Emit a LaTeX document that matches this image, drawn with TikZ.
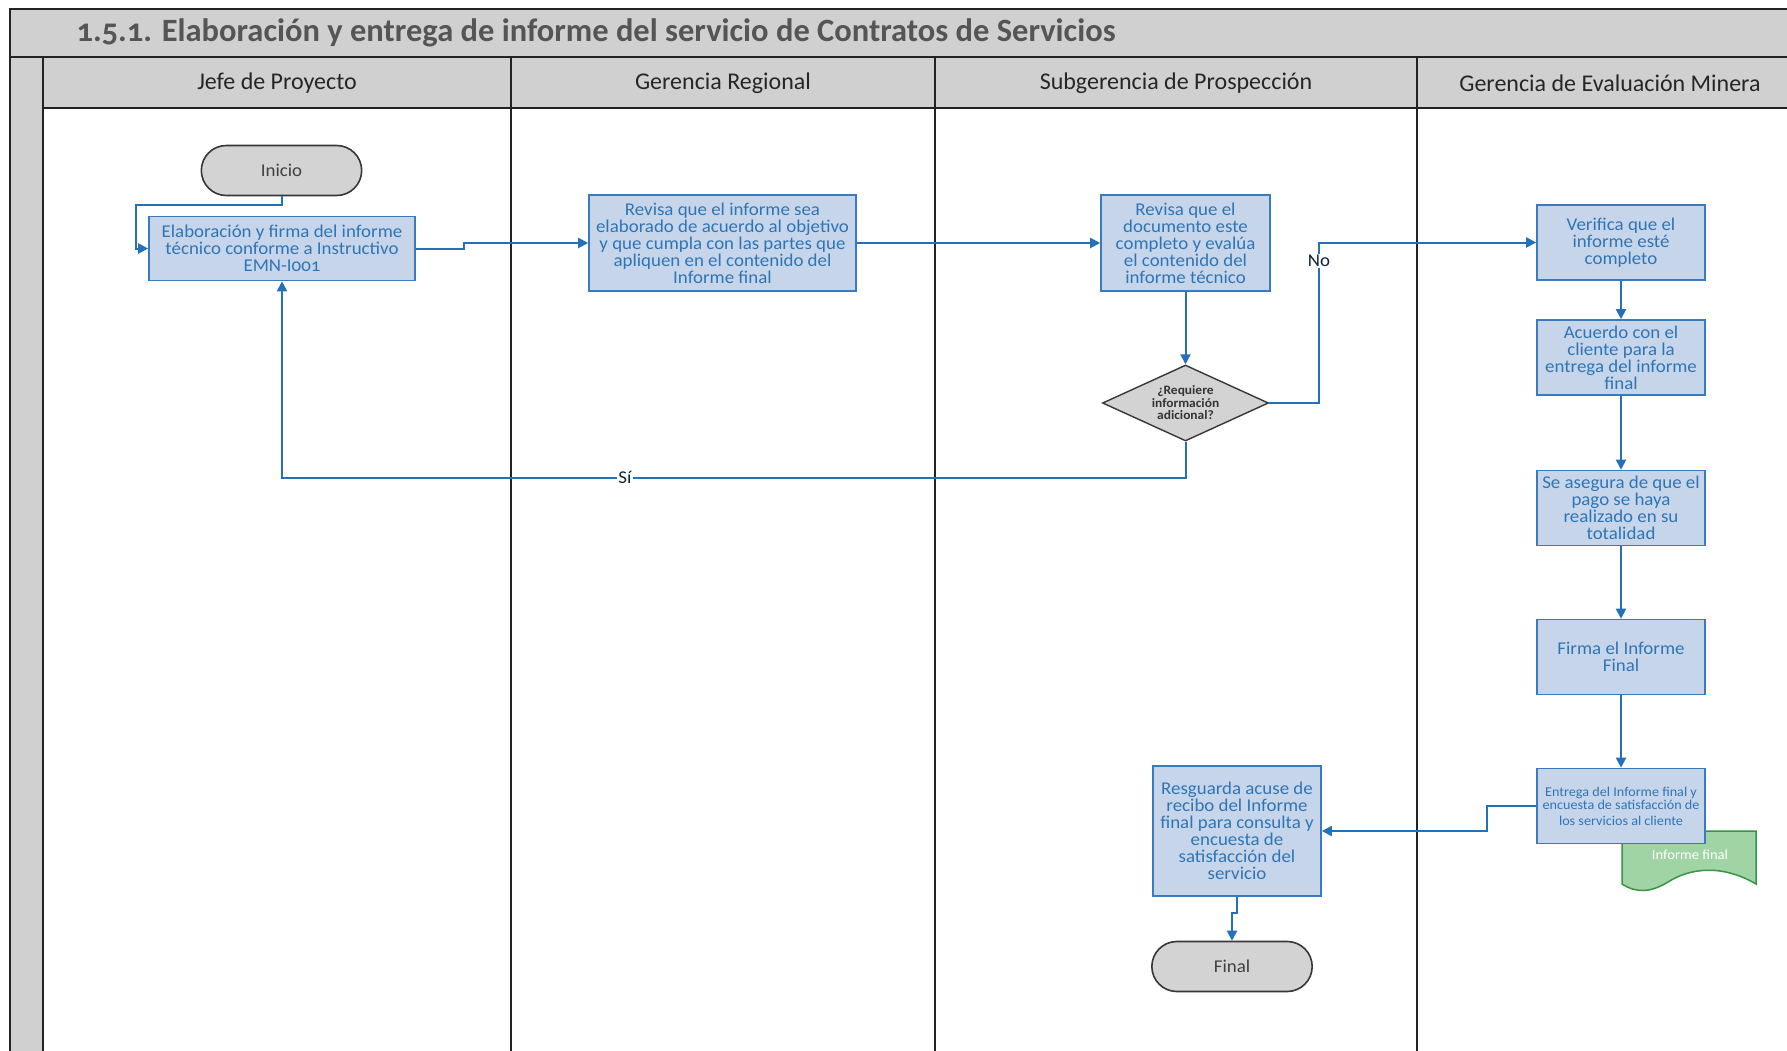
\documentclass[tikz,border=0pt]{standalone}
\usepackage{fontspec}
\setmainfont{Carlito}[Numbers=OldStyle]
\newfontfamily\boxfont{Carlito}[FakeStretch=1.05, Numbers=OldStyle]
\usetikzlibrary{shapes.geometric,shapes.misc,arrows.meta}

\definecolor{bandgray}{RGB}{208,208,208}
\definecolor{laneline}{RGB}{35,35,35}
\definecolor{titletext}{RGB}{85,85,85}
\definecolor{boxfill}{RGB}{199,213,234}
\definecolor{boxline}{RGB}{58,123,192}
\definecolor{boxtext}{RGB}{46,117,182}
\definecolor{flowc}{RGB}{36,113,186}
\definecolor{termfill}{RGB}{211,211,211}
\definecolor{termline}{RGB}{55,55,55}
\definecolor{docfill}{RGB}{160,212,165}
\definecolor{docline}{RGB}{55,150,70}

\tikzset{
  lane/.style={draw=laneline, line width=2.5pt},
  headtxt/.style={font=\fontsize{24}{26}\selectfont, text=black!85},
  proc/.style={rectangle, draw=boxline, fill=boxfill, line width=1.6pt,
    text=boxtext, align=center, inner sep=1pt,
    font=\boxfont\fontsize{18}{17}\selectfont},
  term/.style={rounded rectangle, draw=termline, fill=termfill, line width=1.6pt,
    text=black!75, font=\boxfont\fontsize{18}{19}\selectfont,
    minimum width=167pt, minimum height=50pt},
  decision/.style={diamond, aspect=2.2, draw=termline, fill=termfill, line width=1.4pt,
    text=black!80, align=center, inner sep=0pt,
    font=\boxfont\bfseries\fontsize{12.8}{12.5}\selectfont,
    minimum width=166pt, minimum height=76pt},
  flow/.style={draw=flowc, line width=2pt, -{Triangle[length=10pt,width=10pt]}},
  tag/.style={fill=white, inner sep=1pt, text=black!70!boxtext,
    font=\boxfont\fontsize{18}{18}\selectfont},
}

\begin{document}
\begin{tikzpicture}[x=1pt,y=-1pt]
\useasboundingbox (0,0) rectangle (1787,1051);
\fill[white] (0,0) rectangle (1787,1051);

% title band, header row and left strip
\fill[bandgray] (10,9) rectangle (1787,108);
\fill[bandgray] (10,57) rectangle (43,1051);
\draw[lane] (1787,9) -- (10,9) -- (10,1051);
\draw[lane] (10,57) -- (1787,57);
\draw[lane] (43,108) -- (1787,108);
\draw[lane] (43,57) -- (43,1051);
\draw[lane] (511,57) -- (511,1051);
\draw[lane] (935,57) -- (935,1051);
\draw[lane] (1417,57) -- (1417,1051);

\node[anchor=west, text=titletext, font=\fontsize{32.5}{34}\selectfont\bfseries]
  (title) at (73,33) {1.5.1. Elaboración y entrega de informe del servicio de Contratos de Servicios};

\node[headtxt] (h1) at (277,83) {Jefe de Proyecto};
\node[headtxt] (h2) at (723,83) {Gerencia Regional};
\node[headtxt] (h3) at (1176,83) {Subgerencia de Prospección};
\node[headtxt] (h4) at (1610,83) {Gerencia de Evaluación Minera};

% process steps
\node[term] (ini) at (281.5,170.5) {Inicio};
\node[proc, minimum width=266pt, minimum height=64pt] (elab) at (282,248.5)
  {Elaboración y firma del informe\\técnico conforme a Instructivo\\EMN-I001};
\node[proc, minimum width=267pt, minimum height=96pt] (gr) at (722.5,243)
  {Revisa que el informe sea\\elaborado de acuerdo al objetivo\\y que cumpla con las partes que\\apliquen en el contenido del\\Informe final};
\node[proc, minimum width=169pt, minimum height=96pt] (sp) at (1185.5,243)
  {Revisa que el\\documento este\\completo y evalúa\\el contenido del\\informe técnico};
\node[decision] (dec) at (1185.5,403)
  {¿Requiere\\información\\adicional?};

\node[proc, minimum width=168pt, minimum height=75pt] (ver) at (1621,242.5)
  {Verifica que el\\informe esté\\completo};
\node[proc, minimum width=168pt, minimum height=75pt] (acu) at (1621,357.5)
  {Acuerdo con el\\cliente para la\\entrega del informe\\final};
\node[proc, minimum width=168pt, minimum height=75pt] (ase) at (1621,508)
  {Se asegura de que el\\pago se haya\\realizado en su\\totalidad};
\node[proc, minimum width=168pt, minimum height=75pt] (fir) at (1621,657)
  {Firma el Informe\\Final};

% document behind the delivery step
\draw[docline, fill=docfill, line width=1.5pt]
  (1622,831) -- (1756,831) -- (1756,884)
  .. controls (1722,864) and (1690,868) .. (1668,882)
  .. controls (1650,893) and (1636,893) .. (1622,884) -- cycle;
\node[text=white, font=\boxfont\fontsize{13.9}{14}\selectfont] (doc) at (1690,855) {Informe final};

\node[proc, minimum width=168pt, minimum height=75pt,
  font=\boxfont\fontsize{13.5}{13.5}\selectfont] (ent) at (1621,806)
  {Entrega del Informe final y\\encuesta de satisfacción de\\[2pt]los servicios al cliente};

\node[proc, minimum width=168pt, minimum height=130pt] (res) at (1237,831)
  {Resguarda acuse de\\recibo del Informe\\final para consulta y\\encuesta de\\satisfacción del\\servicio};
\node[term] (fin) at (1232,966.5) {Final};

% connectors
\coordinate (c1) at (136,205);
\draw[flow] (ini.south) |- (c1) |- (elab.west);

\coordinate (j1) at (464,246);
\draw[flow] (elab.east) -| (j1) |- (gr.west);

\draw[flow] (gr.east) -- (sp.west);
\draw[flow] (sp.south) -- (dec.north);

\coordinate (nob) at (1319,300);
\draw[flow] (dec.east) -| (nob) |- (ver.west);
\node[tag] (no) at (1319,261) {No};

\coordinate (sib) at (700,477.5);
\draw[flow] (dec.south) |- (sib) -| (elab.south);
\node[tag] (si) at (625,477.5) {Sí};

\draw[flow] (ver.south) -- (acu.north);
\draw[flow] (acu.south) -- (ase.north);
\draw[flow] (ase.south) -- (fir.north);
\draw[flow] (fir.south) -- (ent.north);

\coordinate (ej) at (1487,820);
\draw[flow] (ent.west) -| (ej) |- (res.east);

\coordinate (rj) at (1232,913);
\draw[flow] (res.south) |- (rj) -- (fin.north);
\end{tikzpicture}
\end{document}
